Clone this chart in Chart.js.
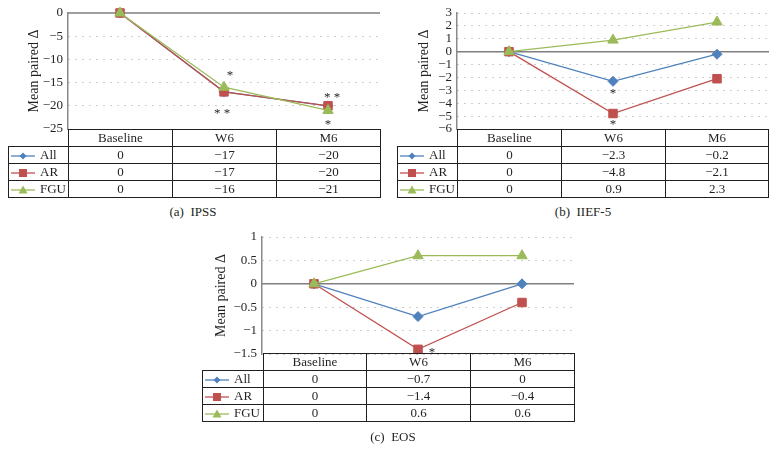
<!DOCTYPE html>
<html>
<head>
<meta charset="utf-8">
<script src="https://cdn.jsdelivr.net/npm/chart.js@4.4.1/dist/chart.umd.min.js"></script>
<style>
body { margin:0; background:#fff; width:777px; height:452px; position:relative; overflow:hidden; font-family:'Liberation Serif', serif; color:#231f20; }
.box { position:absolute; }
table.dt { position:absolute; border-collapse:collapse; table-layout:fixed; font-size:13px; }
table.dt td { border:1px solid #231f20; height:16px; padding:0; text-align:center; line-height:16px; white-space:nowrap; }
table.dt td.key { text-align:left; }
table.dt td.key svg { vertical-align:middle; margin:0 5px 0 2px; }
table.dt td.blank { border-top:none; border-left:none; }
.cap { position:absolute; font-size:13px; transform:translateX(-50%); white-space:nowrap; }
</style>
</head>
<body>
<div class="box" id="boxA" style="left:0;top:-1px;width:380px;height:144px"><canvas id="chartA"></canvas></div>
<div class="box" id="boxB" style="left:390px;top:-1px;width:379px;height:144px"><canvas id="chartB"></canvas></div>
<div class="box" id="boxC" style="left:180px;top:223px;width:394px;height:145px"><canvas id="chartC"></canvas></div>

<table class="dt" id="tableA" style="left:8px;top:129px;width:372px"></table>
<table class="dt" id="tableB" style="left:397px;top:129px;width:371px"></table>
<table class="dt" id="tableC" style="left:202px;top:353px;width:372px"></table>

<div class="cap" style="left:193px;top:204px">(a)&nbsp; IPSS</div>
<div class="cap" style="left:583px;top:204px">(b)&nbsp; IIEF-5</div>
<div class="cap" style="left:393px;top:429px">(c)&nbsp; EOS</div>

<script>
// categories and series
var categories = ['Baseline', 'W6', 'M6'];
var seriesNames = ['All', 'AR', 'FGU'];

var ipssAll = [0, -17, -20];
var ipssAR  = [0, -17, -20];
var ipssFGU = [0, -16, -21];
var ipssTicks = [0, -5, -10, -15, -20, -25];

var iiefAll = [0, -2.3, -0.2];
var iiefAR  = [0, -4.8, -2.1];
var iiefFGU = [0, 0.9, 2.3];
var iiefTicks = [3, 2, 1, 0, -1, -2, -3, -4, -5, -6];

var eosAll = [0, -0.7, 0];
var eosAR  = [0, -1.4, -0.4];
var eosFGU = [0, 0.6, 0.6];
var eosTicks = [1, 0.5, 0, -0.5, -1, -1.5];

var colors = ['#4f81bd', '#c0504d', '#9bbb59'];
var markers = ['rectRot', 'rect', 'triangle'];
var radii = [5, 6, 6];

function minus(v) {
    return String(v).replace('-', '\u2212');
}

// draws the solid zero line and the significance stars
var extras = {
    id: 'extras',
    beforeDatasetsDraw: function(chart) {
        var ctx = chart.ctx, a = chart.chartArea;
        var y = chart.scales.y.getPixelForValue(0);
        ctx.save();
        ctx.strokeStyle = '#7f7f7f';
        ctx.lineWidth = 1.5;
        ctx.beginPath();
        ctx.moveTo(a.left, y);
        ctx.lineTo(a.right, y);
        ctx.stroke();
        ctx.restore();
    },
    afterDatasetsDraw: function(chart, args, opts) {
        var ctx = chart.ctx;
        ctx.save();
        ctx.font = '13px "Liberation Serif"';
        ctx.fillStyle = '#231f20';
        ctx.textAlign = 'center';
        ctx.textBaseline = 'middle';
        (opts.stars || []).forEach(function(s) {
            var p = chart.getDatasetMeta(s.ds).data[s.i];
            ctx.fillText(s.text, p.x + s.dx, p.y + s.dy);
        });
        ctx.restore();
    }
};

function makeChart(id, series, ticks, axisW, titlePad, stars) {
    new Chart(document.getElementById(id), {
        type: 'line',
        data: {
            labels: categories,
            datasets: series.map(function(d, i) {
                return {
                    label: seriesNames[i],
                    data: d,
                    borderColor: colors[i],
                    backgroundColor: colors[i],
                    pointStyle: markers[i],
                    pointRadius: radii[i],
                    pointBorderWidth: 1,
                    borderWidth: 1.3,
                    clip: false,
                    order: 3 - i
                };
            })
        },
        options: {
            responsive: true,
            maintainAspectRatio: false,
            animation: false,
            layout: {autoPadding: false, padding: {top: 14, bottom: 14, left: 0, right: 0}},
            plugins: {
                legend: {display: false},
                tooltip: {enabled: false},
                extras: {stars: stars}
            },
            scales: {
                x: {display: false, offset: true},
                y: {
                    min: Math.min.apply(null, ticks),
                    max: Math.max.apply(null, ticks),
                    afterBuildTicks: function(s) {
                        s.ticks = ticks.map(function(v) { return {value: v}; });
                    },
                    afterFit: function(s) { s.width = axisW; },
                    grid: {
                        drawTicks: false,
                        color: function(c) { return c.tick && c.tick.value === 0 ? 'rgba(0,0,0,0)' : '#9a9a9a'; }
                    },
                    border: {display: true, color: '#8a8a8a', width: 1.5, dash: [1, 6]},
                    ticks: {
                        autoSkip: false,
                        padding: 5,
                        color: '#231f20',
                        font: {family: 'Liberation Serif', size: 13},
                        callback: function(v) { return minus(v); }
                    },
                    title: {
                        display: true,
                        text: 'Mean paired \u0394',
                        color: '#231f20',
                        font: {family: 'Liberation Serif', size: 14},
                        padding: {top: titlePad, bottom: 0}
                    }
                }
            }
        },
        plugins: [extras]
    });
}

function keySvg(i) {
    var c = colors[i], m;
    if (i === 0) m = '<polygon points="12,2.5 15.5,6 12,9.5 8.5,6" fill="' + c + '"/>';
    else if (i === 1) m = '<rect x="8" y="2" width="8" height="8" fill="' + c + '"/>';
    else m = '<polygon points="12,1.5 16.5,9.5 7.5,9.5" fill="' + c + '"/>';
    return '<svg width="24" height="12"><line x1="0" y1="6" x2="24" y2="6" stroke="' + c + '" stroke-width="1.3"/>' + m + '</svg>';
}

function makeTable(id, series, widths) {
    var html = '<colgroup>' + widths.map(function(w) { return '<col style="width:' + w + 'px">'; }).join('') + '</colgroup>';
    html += '<tr><td class="blank"></td>' + categories.map(function(c) { return '<td>' + c + '</td>'; }).join('') + '</tr>';
    series.forEach(function(d, i) {
        html += '<tr><td class="key">' + keySvg(i) + seriesNames[i] + '</td>' +
            d.map(function(v) { return '<td>' + minus(v) + '</td>'; }).join('') + '</tr>';
    });
    document.getElementById(id).innerHTML = html;
}

var seriesA = [ipssAll, ipssAR, ipssFGU];
var seriesB = [iiefAll, iiefAR, iiefFGU];
var seriesC = [eosAll, eosAR, eosFGU];

makeChart('chartA', seriesA, ipssTicks, 68, 26, [
    {ds: 2, i: 1, text: '*', dx: 6, dy: -12},
    {ds: 1, i: 1, text: '* *', dx: -2, dy: 22},
    {ds: 1, i: 2, text: '* *', dx: 4, dy: -8},
    {ds: 2, i: 2, text: '*', dx: 0, dy: 14}
]);
makeChart('chartB', seriesB, iiefTicks, 67, 26, [
    {ds: 0, i: 1, text: '*', dx: 0, dy: 12},
    {ds: 1, i: 1, text: '*', dx: 0, dy: 11}
]);
makeChart('chartC', seriesC, eosTicks, 82, 33, [
    {ds: 1, i: 1, text: '*', dx: 14, dy: 3}
]);

makeTable('tableA', seriesA, [60, 104, 104, 104]);
makeTable('tableB', seriesB, [60, 104, 104, 103]);
makeTable('tableC', seriesC, [61, 103, 104, 104]);
</script>
</body>
</html>
